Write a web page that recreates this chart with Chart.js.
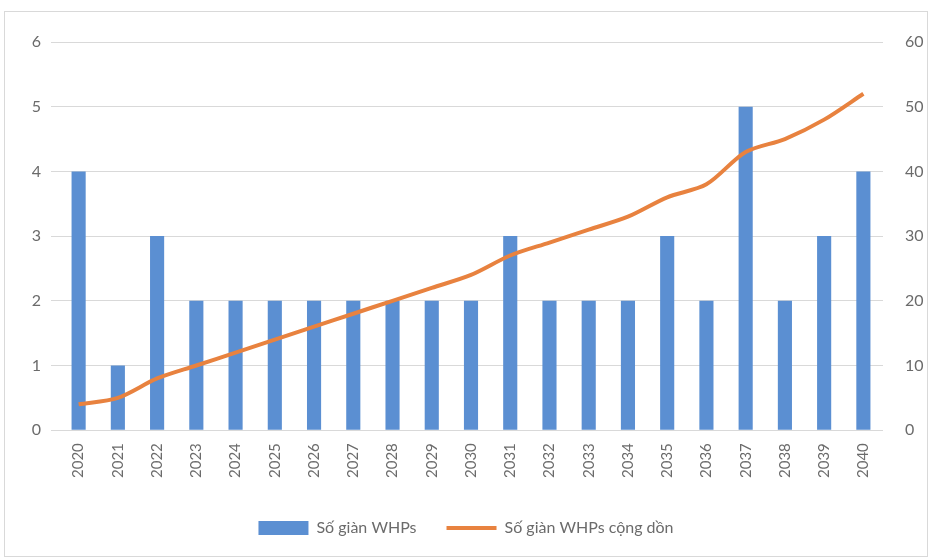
<!DOCTYPE html>
<html>
<head>
<meta charset="utf-8">
<script src="https://cdn.jsdelivr.net/npm/chart.js@4/dist/chart.umd.min.js"></script>
<style>
  body { margin: 0; background: #fff; }
  #wrap { position: absolute; left: 4px; top: 11px; width: 924px; height: 546px; border: 1px solid #d9d9d9; box-sizing: border-box; }
</style>
</head>
<body>
<div id="wrap"><canvas id="chart"></canvas></div>
<script>
const years = ["2020", "2021", "2022", "2023", "2024", "2025", "2026", "2027", "2028", "2029", "2030",
  "2031", "2032", "2033", "2034", "2035", "2036", "2037", "2038", "2039", "2040"];
const perYear = [4, 1, 3, 2, 2, 2, 2, 2, 2, 2, 2, 3, 2, 2, 2, 3, 2, 5, 2, 3, 4];
const cumulative = [4, 5, 8, 10, 12, 14, 16, 18, 20, 22, 24, 27, 29, 31, 33, 36, 38, 43, 45, 48, 52];

const textGray = "#6b6b6b";
const font = { family: "Lato, 'Open Sans', sans-serif", size: 16 };

new Chart(document.getElementById("chart"), {
  data: {
    labels: years,
    datasets: [
      {
        type: "line",
        label: "Số giàn WHPs cộng dồn",
        data: cumulative,
        yAxisID: "y2",
        borderColor: "#e8823f",
        backgroundColor: "#e8823f",
        borderWidth: 4,
        pointRadius: 0,
        tension: 0.3,
        pointStyle: "line",
        order: 0
      },
      {
        type: "bar",
        label: "Số giàn WHPs",
        data: perYear,
        yAxisID: "y",
        backgroundColor: "#5b8fd2",
        barPercentage: 0.36,
        categoryPercentage: 1,
        pointStyle: "rect",
        order: 1
      }
    ]
  },
  options: {
    responsive: true,
    maintainAspectRatio: false,
    animation: false,
    layout: { padding: { top: 30, left: 0, right: 0, bottom: 10 } },
    plugins: {
      tooltip: { enabled: false },
      legend: {
        position: "bottom",
        reverse: true,
        labels: {
          color: textGray,
          font: font,
          usePointStyle: true,
          pointStyleWidth: 50,
          boxHeight: 14,
          padding: 30
        }
      }
    },
    scales: {
      x: {
        grid: { display: false },
        border: { display: false },
        ticks: { color: textGray, font: { family: font.family, size: 15 }, minRotation: 90, maxRotation: 90, padding: 5 },
        afterFit: (s) => { s.height += 7; }
      },
      y: {
        position: "left",
        min: 0, max: 6,
        ticks: { stepSize: 1, color: textGray, font: font, padding: 10 },
        grid: { color: "#d9d9d9" },
        border: { display: false },
        afterFit: (s) => { s.width = 54; }
      },
      y2: {
        position: "right",
        min: 0, max: 60,
        ticks: { stepSize: 10, color: textGray, font: font, padding: 14 },
        grid: { display: false },
        border: { display: false },
        afterFit: (s) => { s.width = 44; }
      }
    }
  }
});
</script>
</body>
</html>
